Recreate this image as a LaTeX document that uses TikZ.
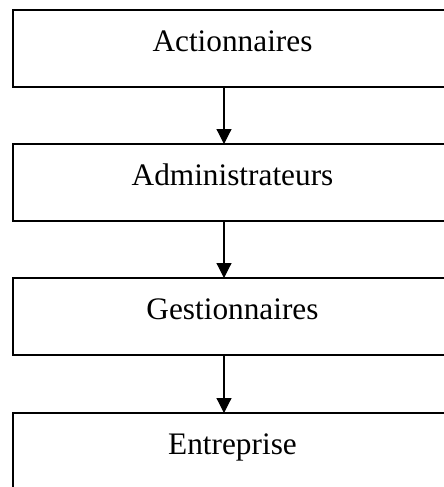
\documentclass[tikz,border=0pt]{standalone}
\usepackage{fontspec}
\setmainfont{Liberation Serif}
\usetikzlibrary{arrows.meta,positioning}

\tikzset{
  levelbox/.style={draw, line width=1pt, inner sep=0pt, outer sep=0pt, minimum width=219.5pt,
    text height=20.5pt, text depth=18pt, anchor=north west},
  levelarrow/.style={-{Triangle[width=7.5pt,length=7.5pt]}, line width=.6pt}
}

\begin{document}
\begin{tikzpicture}[x=.5pt, y=-.5pt, font=\fontsize{15.65}{18}\selectfont, node distance=28.5pt]
    \useasboundingbox (0,0) rectangle (444,487);
    \clip (0,0) rectangle (444,487);
    \node[levelbox] (actionnaires) at (13,10) {Actionnaires};
    \node[levelbox, below=of actionnaires] (administrateurs) {Administrateurs};
    \node[levelbox, below=of administrateurs] (gestionnaires) {Gestionnaires};
    \node[levelbox, below=29pt of gestionnaires, text depth=22pt] (entreprise) {Entreprise};
    \draw[levelarrow] ([xshift=-4.25pt]actionnaires.south) -- ([xshift=-4.25pt]administrateurs.north);
    \draw[levelarrow] ([xshift=-4.25pt]administrateurs.south) -- ([xshift=-4.25pt]gestionnaires.north);
    \draw[levelarrow] ([xshift=-4.25pt]gestionnaires.south) -- ([xshift=-4.25pt]entreprise.north);
  \end{tikzpicture}
\end{document}
